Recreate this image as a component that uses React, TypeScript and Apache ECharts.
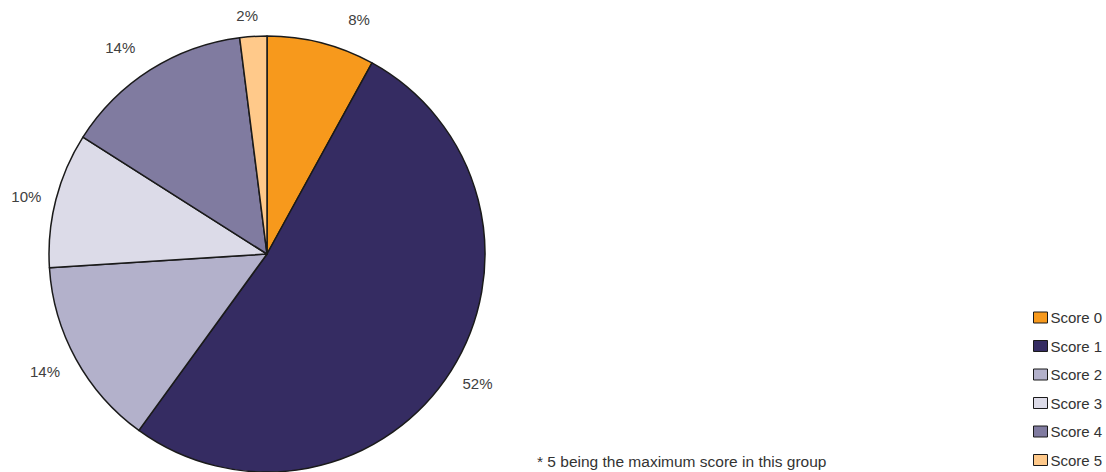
import React, { useEffect, useRef } from "react";
import * as echarts from "echarts";

const categories = ["Score 0", "Score 1", "Score 2", "Score 3", "Score 4", "Score 5"];
const values = [8, 52, 14, 10, 14, 2];
const colors = ["#F7991C", "#352C62", "#B3B1CB", "#DCDBE8", "#807BA0", "#FFC98A"];
const footnote = "* 5 being the maximum score in this group";

// label line geometry (hidden lines) used to place each outside label
const labelLen = [24, 23, 25, 15, 26, 21];
const labelLen2 = [21, -8, -6, 0, 1, -6];

const FONT = "'Liberation Sans', Arial, sans-serif";

export default function App() {
  const ref = useRef<HTMLDivElement>(null);
  useEffect(() => {
    if (!ref.current) return;
    const chart = echarts.init(ref.current, undefined, { renderer: "svg" });
    chart.setOption({
      animation: false,
      backgroundColor: "#ffffff",
      textStyle: { fontFamily: FONT },
      legend: {
        orient: "vertical",
        left: 1033,
        top: 310,
        padding: 0,
        itemWidth: 14,
        itemHeight: 11,
        itemGap: 13.5,
        icon: "rect",
        data: categories,
        itemStyle: { borderColor: "#1a1a1a", borderWidth: 1 },
        textStyle: { fontSize: 15, color: "#333333", fontFamily: FONT, padding: [0, 0, 0, -2] },
      },
      graphic: [
        {
          type: "text",
          left: 537,
          top: 453,
          style: { text: footnote, fontSize: 15.5, fill: "#333333", fontFamily: FONT },
        },
      ],
      series: [
        {
          type: "pie",
          center: [267, 254],
          radius: 218,
          startAngle: 90,
          clockwise: true,
          avoidLabelOverlap: false,
          itemStyle: { borderColor: "#1a1a1a", borderWidth: 1.5 },
          label: {
            show: true,
            position: "outside",
            formatter: "{c}%",
            fontSize: 15,
            color: "#404040",
            fontFamily: FONT,
            distanceToLabelLine: 0,
          },
          labelLine: { show: false, length: 12, length2: 0 },
          data: categories.map((name, i) => ({
            name,
            value: values[i],
            itemStyle: { color: colors[i] },
            labelLine: { show: false, length: labelLen[i], length2: labelLen2[i] },
          })),
        },
      ],
    });
    return () => chart.dispose();
  }, []);
  return (
    <div
      ref={ref}
      style={{ position: "fixed", left: 0, top: 0, width: 1106, height: 472 }}
    />
  );
}
